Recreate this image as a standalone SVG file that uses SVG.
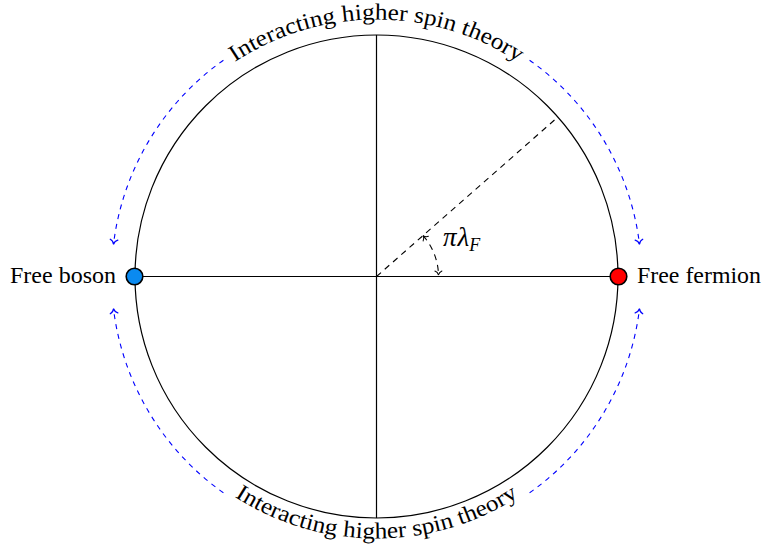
<svg xmlns="http://www.w3.org/2000/svg" width="765" height="551" viewBox="0 0 765 551">
<style>
  .lbl { font-family: "Liberation Serif", "DejaVu Serif", serif; font-size: 23px; fill: #000; }
  .math { font-family: "Liberation Serif", "DejaVu Serif", serif; font-style: italic; font-size: 27px; fill: #000; }
  .thin { fill: none; stroke: #000; stroke-width: 1.2; }
  .dash { fill: none; stroke: #000; stroke-width: 1.1; stroke-dasharray: 6 5; }
  .blue { fill: none; stroke: #0000ff; stroke-width: 1.1; stroke-dasharray: 5 5; }
</style>
<defs>
  <marker id="tipK" viewBox="-6 -5 8 10" refX="0" refY="0" markerWidth="8" markerHeight="10" markerUnits="userSpaceOnUse" orient="auto-start-reverse" overflow="visible">
    <path d="M -4 -3.5 C -3.2 -1.4 -1.2 -0.3 0 0 C -1.2 0.3 -3.2 1.4 -4 3.5" fill="none" stroke="#000" stroke-width="1" stroke-linecap="round"/>
  </marker>
  <marker id="tipB" viewBox="-6 -5 8 10" refX="0" refY="0" markerWidth="8" markerHeight="10" markerUnits="userSpaceOnUse" orient="auto" overflow="visible">
    <path d="M -4.5 -3.8 C -3.6 -1.5 -1.3 -0.3 0 0 C -1.3 0.3 -3.6 1.5 -4.5 3.8" fill="none" stroke="#0000ff" stroke-width="1.3" stroke-linecap="round"/>
  </marker>
  <path id="topArc" d="M 119.5 276.5 A 257 257 0 0 1 633.5 276.5"/>
  <path id="botArc" d="M 114.5 276.5 A 262 262 0 0 0 638.5 276.5"/>
</defs>

<g id="connectors">
  <circle class="thin" cx="376.5" cy="276.5" r="241.5"/>
  <line class="thin" x1="135" y1="276.5" x2="618" y2="276.5"/>
  <line class="thin" x1="376.5" y1="35" x2="376.5" y2="518"/>
  <line class="dash" x1="376.5" y1="276.5" x2="554.5" y2="120"/>
  <path class="dash" d="M 423.1 235.6 A 62 62 0 0 1 438.5 275" stroke-dasharray="5 4" marker-start="url(#tipK)" marker-end="url(#tipK)"/>
  <path class="blue" d="M 223.4 60.2 A 265 265 0 0 0 113.5 244.2" marker-end="url(#tipB)"/>
  <path class="blue" d="M 529.6 60.2 A 265 265 0 0 1 639.5 244.2" marker-end="url(#tipB)"/>
  <path class="blue" d="M 223.4 492.8 A 265 265 0 0 1 113.5 308.8" marker-end="url(#tipB)"/>
  <path class="blue" d="M 529.6 492.8 A 265 265 0 0 0 639.5 308.8" marker-end="url(#tipB)"/>
</g>

<g id="free-boson">
  <circle cx="134.5" cy="276.5" r="8.3" fill="#0a8af0" stroke="#000" stroke-width="1.6"/>
  <text class="lbl" x="116" y="283" text-anchor="end" textLength="106" lengthAdjust="spacingAndGlyphs">Free boson</text>
</g>

<g id="free-fermion">
  <circle cx="618.5" cy="276.5" r="8.3" fill="#ff0000" stroke="#000" stroke-width="1.6"/>
  <text class="lbl" x="637" y="283" textLength="124" lengthAdjust="spacingAndGlyphs">Free fermion</text>
</g>

<g id="angle-label">
  <text class="math" x="443" y="246">π<tspan dx="1">λ</tspan><tspan font-size="18" dy="5">F</tspan></text>
</g>

<g id="top-label">
  <text class="lbl"><textPath href="#topArc" startOffset="50%" text-anchor="middle" textLength="300" lengthAdjust="spacingAndGlyphs">Interacting higher spin theory</textPath></text>
</g>

<g id="bottom-label">
  <text class="lbl"><textPath href="#botArc" startOffset="50%" text-anchor="middle" textLength="300" lengthAdjust="spacingAndGlyphs">Interacting higher spin theory</textPath></text>
</g>
</svg>
